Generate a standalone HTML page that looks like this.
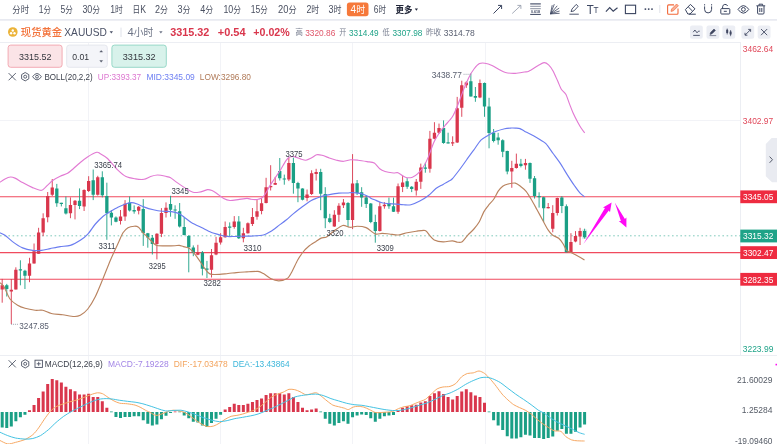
<!DOCTYPE html><html><head><meta charset="utf-8"><title>XAUUSD</title><style>html,body{margin:0;padding:0;background:#fff}svg{display:block}</style></head><body>
<svg width="777" height="444" viewBox="0 0 777 444" font-family='"Liberation Sans","Noto Sans CJK SC",sans-serif'>
<rect width="777" height="444" fill="#fff"/>
<g stroke="#f2f3f7" stroke-width="1" shape-rendering="crispEdges">
<line x1="88.3" y1="43" x2="88.3" y2="444"/>
<line x1="220.4" y1="43" x2="220.4" y2="444"/>
<line x1="352.7" y1="43" x2="352.7" y2="444"/>
<line x1="485" y1="43" x2="485" y2="444"/>
<line x1="0" y1="120.5" x2="740" y2="120.5"/>
</g>
<line x1="0" y1="19.9" x2="777" y2="19.9" stroke="#e8eaf1" stroke-width="1.6"/>
<g stroke="#eceef3" stroke-width="1" shape-rendering="crispEdges">
<line x1="0" y1="42.5" x2="740" y2="42.5"/>
<line x1="0" y1="355.5" x2="777" y2="355.5"/>
<line x1="740.5" y1="42" x2="740.5" y2="355"/>
</g>
<g stroke="#f04a5e" stroke-width="1.05">
<line x1="0" y1="196.8" x2="741" y2="196.8"/>
<line x1="0" y1="252.6" x2="741" y2="252.6"/>
<line x1="0" y1="279.2" x2="741" y2="279.2"/>
</g>
<line x1="0" y1="235.8" x2="741" y2="235.8" stroke="#1a9f85" stroke-opacity="0.55" stroke-width="1" stroke-dasharray="1.6,2.6"/>
<path d="M2.20,278.9V302.7M11.30,279.0V324.0M15.85,267.3V289.5M29.50,257.8V282.2M34.05,243.5V263.6M38.60,227.8V253.8M43.15,213.3V236.2M47.70,192.0V222.3M52.25,179.0V196.0M70.45,197.4V218.2M75.00,200.0V219.4M84.10,189.3V211.0M88.65,176.2V192.0M97.75,175.8V195.6M120.50,210.0V224.5M125.05,200.1V220.9M138.70,206.0V214.4M156.90,233.2V259.4M161.45,208.1V237.1M166.00,202.4V217.5M197.85,244.8V255.2M211.50,249.0V277.5M216.05,236.8V255.2M220.60,233.2V244.6M225.15,221.5V237.7M234.25,216.1V228.7M243.35,227.8V242.3M247.90,222.4V233.6M252.45,208.0V226.0M257.00,199.9V219.7M261.55,198.1V214.3M266.10,177.8V203.4M270.65,165.2V190.5M275.20,176.9V185.0M288.85,158.0V181.1M307.05,189.5V201.3M311.60,170.3V195.0M316.15,168.8V180.5M334.35,210.2V226.8M338.90,203.2V221.9M343.45,199.0V208.0M352.55,154.1V229.1M379.85,202.1V231.5M384.40,202.1V208.7M398.05,183.5V213.8M402.60,175.4V192.1M416.25,179.0V195.6M420.80,163.6V188.9M429.90,130.9V172.7M434.45,122.2V139.3M439.00,123.6V133.9M452.65,136.3V146.0M457.20,96.9V143.0M461.75,80.7V116.8M466.30,81.3V87.9M479.95,79.5V98.2M511.80,160.8V187.8M516.35,153.6V168.6M525.45,158.9V169.7M548.20,203.0V208.5M552.75,205.2V232.3M557.30,197.6V215.5M570.95,233.2V252.2M575.50,231.1V242.3M580.05,227.8V245.0" stroke="#d9364c" stroke-width="0.9" fill="none"/>
<path d="M6.75,283.9V296.5M20.40,260.3V285.3M24.95,269.8V289.0M56.80,183.9V206.8M61.35,202.8V206.4M65.90,196.5V214.5M79.55,188.4V209.1M93.20,169.5V200.1M102.30,171.3V197.4M106.85,182.7V239.8M111.40,210.0V225.4M115.95,216.4V222.3M129.60,196.5V211.5M134.15,205.4V213.7M143.25,199.1V245.9M147.80,232.9V247.7M152.35,235.0V254.5M170.55,195.8V216.7M175.10,205.3V218.8M179.65,203.0V227.5M184.20,217.0V235.4M188.75,235.0V272.3M193.30,245.4V256.2M202.40,251.0V275.4M206.95,260.9V278.0M229.70,222.4V236.5M238.80,216.1V239.0M279.75,158.0V180.5M284.30,174.6V184.7M293.40,157.7V193.7M297.95,181.8V202.2M302.50,188.3V200.4M320.70,168.8V210.2M325.25,187.2V228.2M329.80,213.8V223.2M348.00,202.1V226.8M357.10,180.0V195.0M361.65,187.2V206.8M366.20,195.3V208.0M370.75,203.0V223.2M375.30,214.7V242.7M388.95,197.6V208.8M393.50,197.6V212.0M407.15,178.1V188.9M411.70,186.1V192.1M425.35,162.7V172.7M443.55,120.4V143.8M448.10,132.7V143.5M470.85,73.5V96.6M475.40,87.0V101.8M484.50,82.5V116.8M489.05,97.8V148.3M493.60,129.0V142.4M498.15,132.8V144.7M502.70,139.3V157.2M507.25,150.7V174.3M520.90,158.9V167.4M530.00,162.5V182.9M534.55,176.0V198.6M539.10,192.3V207.6M543.65,196.8V222.1M561.85,196.2V213.1M566.40,204.4V252.2M584.60,228.7V238.6" stroke="#1a9f85" stroke-width="0.9" fill="none"/>
<path d="M0.55,285.2h3.3V289.4h-3.3zM9.65,289.8h3.3V291.5h-3.3zM14.20,269.8h3.3V289.5h-3.3zM27.85,263.6h3.3V275.8h-3.3zM32.40,251.2h3.3V263.6h-3.3zM36.95,232.6h3.3V253.8h-3.3zM41.50,218.2h3.3V232.6h-3.3zM46.05,196.0h3.3V217.3h-3.3zM50.60,187.5h3.3V194.7h-3.3zM68.80,205.0h3.3V213.3h-3.3zM73.35,200.7h3.3V205.0h-3.3zM82.45,189.9h3.3V206.4h-3.3zM87.00,180.9h3.3V191.1h-3.3zM96.10,177.3h3.3V194.7h-3.3zM118.85,216.4h3.3V220.9h-3.3zM123.40,203.7h3.3V216.4h-3.3zM137.05,206.7h3.3V210.8h-3.3zM155.25,233.8h3.3V244.0h-3.3zM159.80,213.1h3.3V233.7h-3.3zM164.35,207.8h3.3V212.9h-3.3zM196.20,252.6h3.3V254.7h-3.3zM209.85,255.2h3.3V269.7h-3.3zM214.40,242.8h3.3V254.6h-3.3zM218.95,237.2h3.3V242.5h-3.3zM223.50,226.9h3.3V237.2h-3.3zM232.60,221.5h3.3V226.9h-3.3zM241.70,233.2h3.3V238.3h-3.3zM246.25,223.3h3.3V233.2h-3.3zM250.80,217.0h3.3V223.9h-3.3zM255.35,211.3h3.3V216.7h-3.3zM259.90,203.3h3.3V210.9h-3.3zM264.45,187.2h3.3V203.1h-3.3zM269.00,185.9h3.3V187.2h-3.3zM273.55,182.9h3.3V184.7h-3.3zM287.20,163.1h3.3V179.6h-3.3zM305.40,194.4h3.3V198.0h-3.3zM309.95,173.3h3.3V194.0h-3.3zM314.50,172.1h3.3V173.9h-3.3zM332.70,214.7h3.3V226.4h-3.3zM337.25,205.7h3.3V214.7h-3.3zM341.80,202.5h3.3V205.2h-3.3zM350.90,183.6h3.3V220.1h-3.3zM378.20,206.3h3.3V231.0h-3.3zM382.75,204.8h3.3V206.3h-3.3zM396.40,186.3h3.3V211.7h-3.3zM400.95,182.6h3.3V187.1h-3.3zM414.60,181.7h3.3V190.5h-3.3zM419.15,167.6h3.3V181.7h-3.3zM428.25,138.8h3.3V168.7h-3.3zM432.80,132.7h3.3V138.8h-3.3zM437.35,128.0h3.3V132.7h-3.3zM451.00,142.3h3.3V143.5h-3.3zM455.55,108.3h3.3V142.4h-3.3zM460.10,85.2h3.3V107.7h-3.3zM464.65,82.5h3.3V85.2h-3.3zM478.30,83.1h3.3V97.5h-3.3zM510.15,168.0h3.3V171.6h-3.3zM514.70,163.7h3.3V168.0h-3.3zM523.80,163.1h3.3V165.2h-3.3zM546.55,207.0h3.3V208.2h-3.3zM551.10,213.1h3.3V228.7h-3.3zM555.65,198.0h3.3V213.1h-3.3zM569.30,241.9h3.3V252.2h-3.3zM573.85,235.9h3.3V241.4h-3.3zM578.40,231.1h3.3V236.5h-3.3z" fill="#d9364c"/>
<path d="M5.10,285.2h3.3V288.9h-3.3zM18.75,269.3h3.3V270.6h-3.3zM23.30,270.8h3.3V275.8h-3.3zM55.15,188.4h3.3V203.2h-3.3zM59.70,202.8h3.3V204.0h-3.3zM64.25,208.2h3.3V213.6h-3.3zM77.90,200.7h3.3V206.0h-3.3zM91.55,180.3h3.3V194.7h-3.3zM100.65,177.3h3.3V195.3h-3.3zM105.20,196.0h3.3V213.3h-3.3zM109.75,212.7h3.3V217.6h-3.3zM114.30,217.6h3.3V221.8h-3.3zM127.95,202.8h3.3V210.4h-3.3zM132.50,209.9h3.3V211.4h-3.3zM141.60,209.0h3.3V232.9h-3.3zM146.15,233.2h3.3V237.4h-3.3zM150.70,237.8h3.3V244.0h-3.3zM168.90,204.0h3.3V209.8h-3.3zM173.45,209.4h3.3V210.6h-3.3zM178.00,211.3h3.3V226.4h-3.3zM182.55,226.9h3.3V235.0h-3.3zM187.10,236.0h3.3V247.2h-3.3zM191.65,247.4h3.3V253.1h-3.3zM200.75,252.6h3.3V268.7h-3.3zM205.30,268.5h3.3V269.8h-3.3zM228.05,226.6h3.3V227.8h-3.3zM237.15,221.5h3.3V238.3h-3.3zM278.10,171.0h3.3V178.2h-3.3zM282.65,178.4h3.3V179.6h-3.3zM291.75,163.1h3.3V182.9h-3.3zM296.30,182.9h3.3V188.6h-3.3zM300.85,188.6h3.3V199.8h-3.3zM319.05,172.1h3.3V193.8h-3.3zM323.60,194.0h3.3V218.3h-3.3zM328.15,218.3h3.3V221.9h-3.3zM346.35,203.0h3.3V220.1h-3.3zM355.45,183.2h3.3V193.1h-3.3zM360.00,192.2h3.3V197.5h-3.3zM364.55,197.5h3.3V203.9h-3.3zM369.10,203.4h3.3V221.9h-3.3zM373.65,221.9h3.3V231.0h-3.3zM387.30,203.9h3.3V206.3h-3.3zM391.85,206.3h3.3V211.7h-3.3zM405.50,181.3h3.3V186.7h-3.3zM410.05,186.7h3.3V189.1h-3.3zM423.70,167.5h3.3V168.7h-3.3zM441.90,128.0h3.3V142.9h-3.3zM446.45,142.3h3.3V143.5h-3.3zM469.20,81.3h3.3V96.6h-3.3zM473.75,96.0h3.3V97.8h-3.3zM482.85,83.1h3.3V106.5h-3.3zM487.40,106.5h3.3V133.0h-3.3zM491.95,132.8h3.3V141.1h-3.3zM496.50,137.5h3.3V140.2h-3.3zM501.05,140.2h3.3V151.8h-3.3zM505.60,151.1h3.3V171.6h-3.3zM519.25,163.8h3.3V166.1h-3.3zM528.35,163.1h3.3V178.7h-3.3zM532.90,178.2h3.3V195.9h-3.3zM537.45,195.9h3.3V197.3h-3.3zM542.00,197.3h3.3V208.2h-3.3zM560.20,197.6h3.3V205.9h-3.3zM564.75,206.2h3.3V252.2h-3.3zM582.95,231.1h3.3V237.2h-3.3z" fill="#1a9f85"/>
<rect x="582.3" y="229.5" width="4.8" height="9.5" fill="#1a9f85" fill-opacity="0.18"/>
<path d="M0.0,182.3C0.7,181.8 3.6,179.6 5.0,178.9C6.4,178.2 9.2,177.1 10.5,177.0C11.8,176.9 13.4,177.4 15.0,178.1C16.6,178.8 20.3,181.3 22.6,182.6C24.9,183.9 30.1,186.6 32.6,187.6C35.1,188.6 39.6,190.6 41.6,190.3C43.6,190.0 46.2,186.4 47.7,185.1C49.2,183.8 51.0,181.7 52.7,180.5C54.4,179.3 58.3,177.2 60.2,176.3C62.1,175.4 65.7,174.2 67.0,173.5C68.3,172.8 68.5,172.8 70.3,171.3C72.1,169.8 78.0,164.4 80.3,162.5C82.6,160.6 85.3,158.4 87.5,157.0C89.7,155.6 95.1,152.7 96.8,152.3C98.5,151.9 99.0,153.0 100.4,153.8C101.8,154.6 105.2,156.3 107.5,158.5C109.8,160.7 115.4,167.7 117.9,170.1C120.4,172.5 123.7,175.4 126.0,176.6C128.3,177.8 133.1,178.5 135.5,178.9C137.9,179.3 142.0,179.6 144.0,179.3C146.0,179.0 148.8,177.1 150.6,176.5C152.4,175.9 155.5,175.0 157.5,175.0C159.5,175.0 163.9,175.9 165.6,176.3C167.3,176.7 169.3,177.0 170.6,177.7C171.9,178.4 173.4,180.0 175.7,181.6C178.0,183.2 185.2,188.1 187.5,189.5C189.8,190.9 191.5,191.8 193.0,192.2C194.5,192.6 197.0,192.5 198.5,192.3C200.0,192.1 202.7,191.3 203.9,190.9C205.1,190.5 206.4,189.7 207.5,189.6C208.6,189.5 210.8,190.0 212.0,190.5C213.2,191.0 214.9,192.1 216.5,193.2C218.1,194.3 221.9,197.5 223.7,198.5C225.5,199.5 228.1,200.4 230.0,200.5C231.9,200.6 235.8,199.9 238.1,199.6C240.4,199.3 245.4,198.3 247.1,198.3C248.8,198.3 249.7,199.1 251.0,199.3C252.3,199.5 255.8,199.7 257.2,199.5C258.6,199.3 260.6,198.7 261.7,198.0C262.8,197.3 264.2,195.6 265.3,194.0C266.4,192.4 268.5,188.1 269.8,185.9C271.1,183.7 273.8,180.0 275.2,177.8C276.6,175.6 279.2,172.0 280.6,169.7C282.0,167.4 284.8,162.4 286.0,160.7C287.2,159.0 288.5,157.6 289.6,157.1C290.7,156.6 292.6,156.4 294.1,156.6C295.6,156.8 298.9,158.4 300.5,158.9C302.1,159.4 304.5,160.3 305.9,160.2C307.3,160.1 309.9,158.7 311.3,158.0C312.7,157.3 315.3,155.2 316.7,154.8C318.1,154.4 320.3,154.9 322.0,155.3C323.7,155.7 327.4,157.3 329.3,158.0C331.2,158.7 334.6,159.8 336.5,160.2C338.4,160.6 341.8,161.4 343.7,161.3C345.6,161.2 349.0,159.9 350.9,159.8C352.8,159.7 355.9,160.0 358.1,160.2C360.3,160.4 364.9,161.2 367.1,161.6C369.3,162.0 372.6,162.1 374.3,163.1C376.0,164.1 378.3,167.7 379.7,168.8C381.1,169.9 383.3,170.9 385.1,171.5C386.9,172.1 391.8,172.8 393.5,173.0C395.2,173.2 396.7,172.3 398.0,172.7C399.3,173.1 402.2,175.6 403.4,176.3C404.6,177.0 405.8,177.6 407.0,177.7C408.2,177.8 411.0,177.7 412.4,177.2C413.8,176.7 416.4,174.9 417.8,173.6C419.2,172.3 421.8,169.6 423.2,167.3C424.6,165.0 427.2,159.8 428.6,156.4C430.0,153.0 432.5,145.2 434.0,142.0C435.5,138.8 438.1,134.7 439.6,132.5C441.1,130.3 443.3,127.6 445.0,125.5C446.7,123.4 450.7,119.5 452.4,116.8C454.1,114.1 456.4,108.5 457.8,105.0C459.2,101.5 461.8,94.2 463.2,90.6C464.6,87.0 467.2,80.9 468.6,78.0C470.0,75.1 472.5,70.9 474.0,69.0C475.5,67.1 478.0,64.4 479.5,63.6C481.0,62.8 483.2,63.0 484.9,63.2C486.6,63.4 490.1,64.5 492.0,65.4C493.9,66.3 497.7,68.9 499.5,69.8C501.3,70.7 503.3,72.0 505.4,72.5C507.5,73.0 512.8,73.5 515.3,73.4C517.8,73.3 522.7,72.3 524.5,72.0C526.3,71.7 527.0,72.0 528.8,71.2C530.6,70.4 535.8,66.9 537.8,65.8C539.8,64.7 542.7,62.7 544.1,62.6C545.5,62.5 547.4,63.8 548.6,64.9C549.8,66.0 552.0,69.0 553.2,71.2C554.4,73.4 556.6,78.7 557.7,81.1C558.8,83.5 560.2,87.4 561.3,89.2C562.4,91.0 564.7,92.4 565.8,94.3C566.9,96.2 568.4,101.1 569.4,103.6C570.4,106.1 571.9,110.3 573.0,112.7C574.1,115.1 576.4,119.7 577.5,121.7C578.6,123.7 580.1,126.5 581.1,128.0C582.1,129.5 584.2,132.2 584.7,132.8" fill="none" stroke="#e27ad3" stroke-width="1.15" stroke-linejoin="round"/>
<path d="M0.0,232.8C0.7,233.1 3.3,234.1 5.0,235.3C6.7,236.5 10.2,239.9 12.5,241.6C14.8,243.3 19.9,246.7 22.6,247.9C25.3,249.1 30.1,250.1 32.6,250.4C35.1,250.7 39.1,250.6 41.4,250.4C43.7,250.2 47.7,249.1 50.2,248.6C52.7,248.1 57.5,247.0 60.2,246.6C62.9,246.2 67.6,246.2 70.3,245.4C73.0,244.6 78.0,241.8 80.3,240.3C82.6,238.8 85.8,236.3 87.8,234.1C89.8,231.9 93.4,226.3 95.4,224.0C97.4,221.7 100.9,218.2 102.9,216.5C104.9,214.8 108.4,212.7 110.4,211.5C112.4,210.3 115.9,208.2 117.9,207.2C119.9,206.2 123.7,204.6 125.5,204.0C127.3,203.4 129.9,202.6 131.5,202.6C133.1,202.6 135.5,203.4 137.2,204.0C138.9,204.6 142.2,206.3 144.4,207.1C146.6,207.9 151.0,209.2 153.4,209.8C155.8,210.4 160.0,211.1 162.4,211.3C164.8,211.5 169.2,211.3 171.4,211.6C173.6,211.9 176.9,212.7 178.6,213.4C180.3,214.1 182.3,215.8 184.0,217.0C185.7,218.2 188.9,221.0 191.3,222.4C193.7,223.8 199.4,226.5 202.0,227.8C204.6,229.1 208.6,231.3 211.0,232.3C213.4,233.3 217.8,234.4 220.0,235.0C222.2,235.6 225.4,236.3 227.3,236.5C229.2,236.7 232.6,236.5 234.5,236.5C236.4,236.5 239.5,236.3 241.7,236.2C243.9,236.1 247.9,236.3 250.8,236.1C253.7,235.9 260.8,235.6 263.4,235.0C266.0,234.4 268.4,232.8 270.6,231.5C272.8,230.2 277.4,226.5 279.6,224.9C281.8,223.3 285.0,221.0 286.8,219.5C288.6,218.0 291.1,215.6 293.2,213.9C295.3,212.2 299.9,208.5 302.3,206.7C304.7,204.9 309.3,201.6 311.3,200.4C313.3,199.2 315.8,198.6 317.2,198.0C318.6,197.4 320.6,196.6 322.0,196.2C323.4,195.8 325.8,195.3 328.0,194.9C330.2,194.5 336.2,193.4 338.8,193.1C341.4,192.8 345.6,193.1 347.3,193.0C349.0,192.9 350.4,192.6 351.4,192.6C352.4,192.6 353.0,192.6 354.5,192.8C356.0,193.0 360.4,193.5 362.3,194.0C364.2,194.5 367.7,196.2 368.9,196.8C370.1,197.4 370.3,198.0 371.3,198.5C372.3,199.0 374.7,199.8 376.1,200.4C377.5,201.0 379.8,202.2 382.0,202.7C384.2,203.2 390.0,203.6 392.9,203.9C395.8,204.2 401.3,204.7 403.7,204.8C406.1,204.9 408.8,205.2 410.9,204.7C413.0,204.2 417.4,202.4 419.8,201.1C422.2,199.8 426.7,197.0 428.8,195.3C430.9,193.6 434.0,190.0 435.9,188.5C437.8,187.0 441.4,185.4 443.1,184.4C444.8,183.4 447.4,182.0 448.6,181.3C449.8,180.6 450.7,180.5 452.1,179.0C453.5,177.5 457.4,172.5 459.3,170.0C461.2,167.5 464.6,162.7 466.5,160.0C468.4,157.3 471.8,152.7 473.7,150.1C475.6,147.5 479.0,142.2 480.9,140.2C482.8,138.2 486.4,136.4 488.3,135.2C490.2,134.0 493.3,132.4 495.5,131.5C497.7,130.6 502.6,129.2 504.7,128.7C506.8,128.2 510.1,128.1 511.5,128.0C512.9,127.9 514.4,128.0 515.5,128.1C516.6,128.2 518.8,128.2 520.0,128.6C521.2,129.0 522.7,130.3 524.5,131.2C526.3,132.1 531.4,134.5 533.5,135.7C535.6,136.9 538.9,138.9 540.6,140.0C542.3,141.1 544.2,141.8 545.9,143.6C547.6,145.4 551.2,150.9 553.1,153.5C555.0,156.1 558.4,160.5 560.3,163.4C562.2,166.3 565.6,172.1 567.5,175.1C569.4,178.1 573.0,183.6 574.7,186.0C576.4,188.4 578.8,191.8 580.1,193.2C581.4,194.6 584.0,196.3 584.6,196.8" fill="none" stroke="#6b7df0" stroke-width="1.15" stroke-linejoin="round"/>
<path d="M0.0,282.7C0.5,283.2 2.5,284.2 3.8,286.4C5.1,288.6 8.2,296.5 10.0,299.0C11.8,301.5 15.6,304.0 17.6,305.2C19.6,306.4 22.8,307.6 25.1,308.3C27.4,309.0 32.8,310.0 35.1,310.3C37.4,310.6 40.5,309.9 42.7,310.3C44.9,310.7 48.7,312.9 51.4,313.5C54.1,314.1 59.7,314.4 62.7,314.8C65.7,315.2 71.7,316.4 74.0,316.5C76.3,316.6 78.5,316.3 80.3,315.3C82.1,314.3 85.8,311.5 87.8,309.0C89.8,306.5 93.4,300.5 95.4,296.5C97.4,292.5 100.9,283.7 102.9,278.9C104.9,274.1 108.4,264.9 110.4,260.2C112.4,255.5 116.2,247.5 117.9,243.8C119.6,240.1 121.7,234.9 123.0,232.8C124.3,230.7 126.5,228.7 128.0,227.8C129.5,226.9 132.9,226.3 134.3,226.2C135.7,226.1 137.4,226.4 138.5,227.2C139.6,228.0 141.3,230.9 142.6,232.3C143.9,233.7 146.6,236.2 148.0,237.7C149.4,239.2 152.2,242.2 153.4,243.2C154.6,244.2 155.3,245.1 157.0,245.5C158.7,245.9 163.6,245.9 166.0,245.9C168.4,245.9 173.2,245.8 175.0,245.7C176.8,245.6 178.2,245.3 179.3,245.4C180.4,245.5 182.2,246.3 183.5,246.6C184.8,246.9 187.5,247.3 188.7,248.0C189.9,248.7 191.7,250.4 192.8,251.6C193.9,252.8 195.8,255.3 196.9,256.8C198.0,258.3 200.0,261.3 201.1,263.0C202.2,264.7 204.2,267.9 205.2,269.2C206.2,270.5 207.5,272.1 208.3,272.8C209.1,273.5 210.0,274.2 211.5,274.4C213.0,274.6 217.5,274.5 219.7,274.4C221.9,274.3 225.8,273.7 228.0,273.5C230.2,273.3 234.1,272.8 236.3,272.6C238.5,272.4 242.9,272.1 244.6,272.0C246.3,271.9 247.2,271.9 249.0,271.8C250.8,271.7 256.1,271.2 258.0,271.4C259.9,271.6 261.7,272.7 263.4,273.6C265.1,274.5 268.6,277.4 270.6,278.4C272.6,279.4 276.4,280.8 278.7,280.8C281.0,280.8 285.9,279.4 287.7,278.1C289.5,276.8 291.0,273.3 292.3,270.9C293.6,268.5 296.3,262.5 297.7,260.0C299.1,257.5 301.7,253.8 303.1,252.0C304.5,250.2 306.8,247.9 308.5,246.5C310.2,245.1 314.0,242.8 315.7,241.7C317.4,240.6 319.7,238.7 321.1,238.1C322.5,237.5 324.8,237.9 326.5,237.0C328.2,236.1 331.5,232.7 333.7,231.2C335.9,229.7 340.5,226.0 342.7,225.5C344.9,225.0 348.1,227.2 350.0,227.3C351.9,227.4 355.0,226.2 357.1,226.2C359.2,226.2 363.7,226.6 366.1,227.6C368.5,228.6 373.0,233.1 375.1,233.9C377.2,234.7 380.2,233.4 382.1,233.4C384.0,233.4 387.1,233.8 389.3,234.0C391.5,234.2 395.9,235.2 398.3,235.0C400.7,234.8 404.8,233.2 407.2,232.7C409.6,232.2 413.8,231.5 416.2,231.2C418.6,230.9 423.4,229.9 425.2,230.5C427.0,231.1 428.5,234.1 429.7,235.4C430.9,236.7 432.4,239.0 434.2,239.9C436.0,240.8 440.8,241.8 443.2,241.9C445.6,242.0 450.4,240.8 452.3,240.8C454.2,240.8 456.4,242.1 457.7,242.2C459.0,242.3 460.9,242.6 462.2,241.7C463.5,240.8 466.0,237.1 467.6,235.4C469.2,233.7 472.3,230.8 473.9,229.0C475.5,227.2 478.0,224.1 479.3,221.8C480.6,219.5 482.6,214.1 483.8,211.9C485.0,209.7 487.0,207.3 488.3,205.6C489.6,203.9 492.4,201.2 493.7,199.3C495.0,197.4 497.0,192.9 498.2,191.2C499.4,189.5 501.4,187.2 502.7,186.2C504.0,185.2 506.4,184.4 508.1,184.0C509.8,183.6 513.6,182.8 515.3,183.1C517.0,183.4 519.3,185.4 520.7,186.5C522.1,187.6 524.7,189.5 526.1,191.3C527.5,193.1 530.1,197.4 531.5,199.8C532.9,202.2 535.3,206.6 536.9,209.5C538.5,212.4 541.9,218.8 543.4,221.5C544.9,224.2 546.7,227.8 547.9,229.6C549.1,231.4 551.0,233.8 552.4,235.0C553.8,236.2 557.3,237.1 558.7,238.3C560.1,239.5 562.2,242.4 563.2,244.0C564.2,245.6 565.5,249.3 566.5,250.4C567.5,251.5 569.2,251.6 570.5,252.2C571.8,252.8 574.0,253.9 575.9,254.9C577.8,255.9 583.4,259.2 584.5,259.9" fill="none" stroke="#b9835f" stroke-width="1.15" stroke-linejoin="round"/>
<text x="94.2" y="167.9" font-size="8.4" fill="#3a3f4a" textLength="28.0" lengthAdjust="spacingAndGlyphs">3365.74</text>
<text x="171.4" y="194.3" font-size="8.4" fill="#3a3f4a" textLength="17.4" lengthAdjust="spacingAndGlyphs">3345</text>
<text x="98.6" y="249.2" font-size="8.4" fill="#3a3f4a" textLength="16.8" lengthAdjust="spacingAndGlyphs">3311</text>
<text x="148.8" y="269.3" font-size="8.4" fill="#3a3f4a" textLength="16.8" lengthAdjust="spacingAndGlyphs">3295</text>
<text x="203.5" y="285.6" font-size="8.4" fill="#3a3f4a" textLength="17.5" lengthAdjust="spacingAndGlyphs">3282</text>
<text x="243.6" y="250.6" font-size="8.4" fill="#3a3f4a" textLength="18.0" lengthAdjust="spacingAndGlyphs">3310</text>
<text x="285.5" y="156.9" font-size="8.4" fill="#3a3f4a" textLength="17.1" lengthAdjust="spacingAndGlyphs">3375</text>
<text x="326.5" y="236.0" font-size="8.4" fill="#3a3f4a" textLength="17.1" lengthAdjust="spacingAndGlyphs">3320</text>
<text x="376.7" y="250.7" font-size="8.4" fill="#3a3f4a" textLength="17.1" lengthAdjust="spacingAndGlyphs">3309</text>
<text x="431.7" y="78.3" font-size="8.4" fill="#5a6070" textLength="30.1" lengthAdjust="spacingAndGlyphs">3438.77</text>
<text x="19.3" y="329.3" font-size="8.4" fill="#5a6070" textLength="29.6" lengthAdjust="spacingAndGlyphs">3247.85</text>
<path d="M463.6,74.3H471.6 M11.2,324.3H18" stroke="#7a8090" stroke-width="0.8" stroke-dasharray="0.9,1.1" fill="none"/>
<polygon points="583.4,243.9 608.8,210.6 610.0,212.3 611.6,202.4 603.0,207.6 605.0,208.0" fill="#ff0af5"/>
<polygon points="614.9,202.7 620.9,220.9 618.8,221.0 626.4,227.5 626.4,217.5 624.9,219.0" fill="#ff0af5"/>
<rect x="775.5" y="363.8" width="1.5" height="1.6" fill="#ff0af5"/>
<rect x="740.3" y="190.4" width="36.7" height="12.8" fill="#ee2b40"/>
<text x="743.0" y="200.0" font-size="9" fill="#fff" textLength="30.3" lengthAdjust="spacingAndGlyphs">3345.05</text>
<rect x="740.3" y="229.6" width="36.7" height="12.8" fill="#1fa388"/>
<text x="743.0" y="239.2" font-size="9" fill="#fff" textLength="30.3" lengthAdjust="spacingAndGlyphs">3315.32</text>
<rect x="740.3" y="246.2" width="36.7" height="12.8" fill="#ee2b40"/>
<text x="743.0" y="255.8" font-size="9" fill="#fff" textLength="30.3" lengthAdjust="spacingAndGlyphs">3302.47</text>
<rect x="740.3" y="272.9" width="36.7" height="12.8" fill="#ee2b40"/>
<text x="743.0" y="282.5" font-size="9" fill="#fff" textLength="30.3" lengthAdjust="spacingAndGlyphs">3282.35</text>
<text x="742.8" y="51.7" font-size="9" fill="#e0485a" textLength="30.4" lengthAdjust="spacingAndGlyphs">3462.64</text>
<text x="742.8" y="124.4" font-size="9" fill="#e0485a" textLength="30.4" lengthAdjust="spacingAndGlyphs">3402.97</text>
<text x="742.7" y="351.9" font-size="9" fill="#1fa388" textLength="30.7" lengthAdjust="spacingAndGlyphs">3223.99</text>
<text x="737.1" y="382.6" font-size="9" fill="#555b66" textLength="35.4" lengthAdjust="spacingAndGlyphs">21.60029</text>
<text x="741.8" y="413.0" font-size="9" fill="#555b66" textLength="30.7" lengthAdjust="spacingAndGlyphs">1.25284</text>
<text x="734.9" y="443.7" font-size="9" fill="#555b66" textLength="37.6" lengthAdjust="spacingAndGlyphs">-19.09460</text>
<path d="M777,137.9H771.6L765.8,144V176.2L772,182.3H777z" fill="#e9ebf1"/>
<path d="M769.6,156.6l2.9,3.1l-2.9,3.1" fill="none" stroke="#555b6b" stroke-width="1"/>
<path d="M28.00,410.2h3V411.9h-3zM32.55,405.1h3V411.9h-3zM37.10,398.0h3V411.9h-3zM41.65,391.6h3V411.9h-3zM46.20,383.9h3V411.9h-3zM50.75,379.1h3V411.9h-3zM55.30,380.2h3V411.9h-3zM59.85,382.6h3V411.9h-3zM64.40,386.8h3V411.9h-3zM68.95,389.3h3V411.9h-3zM73.50,391.2h3V411.9h-3zM78.05,394.5h3V411.9h-3zM82.60,394.5h3V411.9h-3zM87.15,393.8h3V411.9h-3zM91.70,397.0h3V411.9h-3zM96.25,397.0h3V411.9h-3zM100.80,401.3h3V411.9h-3zM105.35,407.7h3V411.9h-3zM173.70,411.5h2.8v0.8h-2.8zM223.65,409.6h3V411.9h-3zM228.20,407.1h3V411.9h-3zM232.75,403.8h3V411.9h-3zM237.30,405.1h3V411.9h-3zM241.85,405.1h3V411.9h-3zM246.40,403.8h3V411.9h-3zM250.95,401.9h3V411.9h-3zM255.50,399.9h3V411.9h-3zM260.05,398.4h3V411.9h-3zM264.60,395.1h3V411.9h-3zM269.15,393.2h3V411.9h-3zM273.70,393.2h3V411.9h-3zM278.25,393.2h3V411.9h-3zM282.80,394.5h3V411.9h-3zM287.35,393.2h3V411.9h-3zM291.90,397.0h3V411.9h-3zM296.45,401.9h3V411.9h-3zM301.00,407.7h3V411.9h-3zM305.55,410.2h3V411.9h-3zM310.10,409.6h3V411.9h-3zM314.65,408.6h3V411.9h-3zM396.55,410.5h3V411.9h-3zM401.10,407.7h3V411.9h-3zM405.65,406.3h3V411.9h-3zM410.20,405.3h3V411.9h-3zM414.75,404.8h3V411.9h-3zM419.30,402.4h3V411.9h-3zM423.85,401.3h3V411.9h-3zM428.40,396.1h3V411.9h-3zM432.95,393.2h3V411.9h-3zM437.50,391.2h3V411.9h-3zM442.05,394.1h3V411.9h-3zM446.60,397.0h3V411.9h-3zM451.15,399.4h3V411.9h-3zM455.70,396.1h3V411.9h-3zM460.25,391.6h3V411.9h-3zM464.80,389.3h3V411.9h-3zM469.35,392.2h3V411.9h-3zM473.90,395.5h3V411.9h-3zM478.45,397.0h3V411.9h-3zM483.00,402.8h3V411.9h-3z" fill="#d9364c"/>
<path d="M0.70,411.9h3V427.5h-3zM5.25,411.9h3V427.9h-3zM9.80,411.9h3V426.6h-3zM14.35,411.9h3V421.2h-3zM18.90,411.9h3V417.3h-3zM23.45,411.9h3V414.8h-3zM110.00,411.5h2.8v0.8h-2.8zM114.45,411.9h3V416.9h-3zM119.00,411.9h3V417.9h-3zM123.55,411.9h3V416.9h-3zM128.10,411.9h3V416.9h-3zM132.65,411.9h3V416.3h-3zM137.20,411.9h3V416.3h-3zM141.75,411.9h3V420.2h-3zM146.30,411.9h3V423.7h-3zM150.85,411.9h3V425.6h-3zM155.40,411.9h3V424.6h-3zM159.95,411.9h3V419.2h-3zM164.50,411.9h3V415.8h-3zM169.05,411.9h3V412.9h-3zM178.25,411.5h2.8v0.8h-2.8zM182.70,411.9h3V415.4h-3zM187.25,411.9h3V418.3h-3zM191.80,411.9h3V421.7h-3zM196.35,411.9h3V422.5h-3zM200.90,411.9h3V425.6h-3zM205.45,411.9h3V427.0h-3zM210.00,411.9h3V423.1h-3zM214.55,411.9h3V418.7h-3zM219.10,411.9h3V414.8h-3zM319.30,411.5h2.8v0.8h-2.8zM323.75,411.9h3V418.7h-3zM328.30,411.9h3V423.7h-3zM332.85,411.9h3V425.4h-3zM337.40,411.9h3V423.1h-3zM341.95,411.9h3V421.2h-3zM346.50,411.9h3V423.7h-3zM351.05,411.9h3V417.3h-3zM355.60,411.9h3V415.4h-3zM360.15,411.9h3V414.4h-3zM364.70,411.9h3V415.0h-3zM369.25,411.9h3V418.3h-3zM373.80,411.9h3V421.7h-3zM378.35,411.9h3V418.7h-3zM382.90,411.9h3V416.3h-3zM387.45,411.9h3V415.4h-3zM392.00,411.9h3V415.0h-3zM487.65,411.5h2.8v0.8h-2.8zM492.10,411.9h3V420.2h-3zM496.65,411.9h3V425.4h-3zM501.20,411.9h3V429.9h-3zM505.75,411.9h3V436.2h-3zM510.30,411.9h3V438.5h-3zM514.85,411.9h3V438.5h-3zM519.40,411.9h3V437.2h-3zM523.95,411.9h3V434.7h-3zM528.50,411.9h3V435.6h-3zM533.05,411.9h3V438.0h-3zM537.60,411.9h3V438.0h-3zM542.15,411.9h3V439.1h-3zM546.70,411.9h3V438.0h-3zM551.25,411.9h3V436.6h-3zM555.80,411.9h3V430.8h-3zM560.35,411.9h3V428.9h-3zM564.90,411.9h3V433.7h-3zM569.45,411.9h3V433.7h-3zM574.00,411.9h3V431.8h-3zM578.55,411.9h3V427.5h-3zM583.10,411.9h3V424.6h-3z" fill="#1a9f85"/>
<path d="M0.0,440.5C1.0,441.0 5.6,443.6 7.7,443.9C9.8,444.2 13.1,443.0 15.4,442.4C17.7,441.8 22.8,440.5 25.1,439.5C27.4,438.5 31.0,436.2 32.8,434.7C34.6,433.2 37.1,430.0 38.6,427.9C40.1,425.8 42.9,421.4 44.4,419.2C45.9,417.0 48.7,413.2 50.2,411.5C51.7,409.8 54.5,407.6 56.0,406.7C57.5,405.8 60.0,405.0 61.8,404.4C63.6,403.8 67.4,402.5 69.5,401.9C71.6,401.3 75.1,400.6 77.2,399.9C79.3,399.2 83.1,397.7 84.9,397.0C86.7,396.3 89.0,395.3 90.7,394.7C92.4,394.1 96.0,392.9 97.5,392.8C99.0,392.7 100.9,393.0 102.3,393.6C103.7,394.2 106.6,396.4 108.1,397.4C109.6,398.4 112.4,400.1 113.9,400.9C115.4,401.7 117.9,402.8 119.7,403.2C121.5,403.6 125.3,403.5 127.4,403.8C129.5,404.1 133.3,404.6 135.1,405.1C136.9,405.6 139.4,406.8 140.9,407.6C142.4,408.4 145.5,410.3 146.7,410.9C147.9,411.5 148.8,411.7 150.0,412.3C151.2,412.9 154.3,415.2 155.8,415.4C157.3,415.6 160.1,414.5 161.6,414.0C163.1,413.5 165.9,412.0 167.4,411.5C168.9,411.0 171.7,410.3 173.2,410.2C174.7,410.1 177.5,410.6 179.0,410.9C180.5,411.2 183.2,411.8 184.7,412.5C186.2,413.2 189.0,415.2 190.5,416.3C192.0,417.4 194.8,419.5 196.3,420.6C197.8,421.7 200.6,423.6 202.1,424.4C203.6,425.2 206.4,426.4 207.9,426.6C209.4,426.8 212.2,426.5 213.7,426.0C215.2,425.5 218.0,424.0 219.5,423.1C221.0,422.2 223.8,420.1 225.3,419.2C226.8,418.3 229.6,416.8 231.1,416.3C232.6,415.8 235.4,415.7 236.9,415.4C238.4,415.1 241.2,414.4 242.7,414.0C244.2,413.6 247.0,412.6 248.5,412.1C250.0,411.6 252.7,410.9 254.2,410.2C255.7,409.5 258.5,407.8 260.0,406.7C261.5,405.6 264.3,403.2 265.8,401.9C267.3,400.6 270.1,398.0 271.6,397.0C273.1,396.0 275.9,394.7 277.4,394.1C278.9,393.5 281.7,392.8 283.2,392.2C284.7,391.6 287.5,389.6 289.0,389.3C290.5,389.0 293.3,389.4 294.8,389.7C296.3,390.0 298.5,391.0 300.0,391.7C301.5,392.4 304.3,394.4 305.8,394.7C307.3,395.0 310.2,393.9 311.6,393.6C313.0,393.3 315.1,392.5 316.4,392.8C317.7,393.1 319.8,395.0 321.2,396.1C322.6,397.2 325.5,399.7 327.0,400.9C328.5,402.1 331.3,404.3 332.8,405.1C334.3,405.9 337.1,406.3 338.6,406.7C340.1,407.1 343.1,407.8 344.4,408.2C345.7,408.6 347.1,409.7 348.3,409.6C349.5,409.5 351.8,407.5 353.1,407.1C354.4,406.7 356.5,406.3 357.9,406.3C359.3,406.3 362.2,406.7 363.7,407.1C365.2,407.5 368.0,408.9 369.5,409.6C371.0,410.3 373.8,412.1 375.3,412.5C376.8,412.9 379.6,412.6 381.1,412.5C382.6,412.4 385.4,412.2 386.9,412.1C388.4,412.0 391.2,412.0 392.7,411.5C394.2,411.0 397.0,409.2 398.5,408.6C400.0,408.0 402.7,407.1 404.2,406.7C405.7,406.3 408.5,406.2 410.0,405.7C411.5,405.2 414.3,403.8 415.8,403.2C417.3,402.6 420.3,401.4 421.6,400.9C422.9,400.4 424.2,400.2 425.5,399.3C426.8,398.4 429.8,395.5 431.3,394.1C432.8,392.7 435.6,389.8 437.1,388.9C438.6,388.0 441.2,387.3 442.9,387.0C444.6,386.7 448.3,386.9 450.0,386.4C451.7,385.9 454.3,384.8 455.8,383.5C457.3,382.2 460.1,378.1 461.6,376.8C463.1,375.5 465.9,374.0 467.4,373.5C468.9,373.0 471.7,373.2 473.2,372.9C474.7,372.6 477.5,370.9 479.0,371.0C480.5,371.1 483.2,372.4 484.7,373.5C486.2,374.6 489.0,377.6 490.5,379.3C492.0,381.0 494.8,384.4 496.3,386.4C497.8,388.4 500.6,392.3 502.1,394.1C503.6,395.9 506.4,398.5 507.9,399.9C509.4,401.3 512.2,403.7 513.7,404.7C515.2,405.7 518.0,406.9 519.5,407.6C521.0,408.3 523.8,409.3 525.3,410.2C526.8,411.1 529.6,412.8 531.1,414.0C532.6,415.2 535.4,417.9 536.9,419.2C538.4,420.5 541.2,422.6 542.7,423.7C544.2,424.8 547.0,426.6 548.5,427.5C550.0,428.4 552.5,430.3 554.2,430.8C555.9,431.3 559.5,430.6 561.0,431.4C562.5,432.2 564.4,435.5 565.8,436.6C567.2,437.7 570.1,439.3 571.6,439.9C573.1,440.5 575.7,440.7 577.4,440.8C579.1,440.9 583.6,441.0 584.6,441.0" fill="none" stroke="#f7a964" stroke-width="1" stroke-linejoin="round"/>
<path d="M0.0,432.2C1.0,432.7 5.6,434.8 7.7,435.6C9.8,436.4 13.1,437.5 15.4,438.0C17.7,438.5 22.8,439.0 25.1,439.1C27.4,439.2 30.7,439.0 32.8,438.5C34.9,438.0 38.4,436.8 40.5,435.6C42.6,434.4 46.2,431.5 48.3,429.8C50.4,428.1 53.9,424.3 56.0,422.5C58.1,420.7 61.6,417.8 63.7,416.3C65.8,414.8 69.3,412.7 71.4,411.5C73.5,410.3 77.1,408.6 79.2,407.6C81.3,406.6 84.8,404.7 86.9,403.8C89.0,402.9 92.8,401.1 94.6,400.5C96.4,399.9 98.9,399.3 100.4,399.0C101.9,398.7 104.7,398.6 106.2,398.6C107.7,398.6 110.2,398.8 112.0,399.0C113.8,399.2 117.6,400.0 119.7,400.3C121.8,400.6 125.3,401.0 127.4,401.3C129.5,401.6 133.0,401.9 135.1,402.2C137.2,402.5 140.9,403.3 142.9,403.8C144.9,404.3 148.0,405.4 150.0,406.0C152.0,406.6 155.6,407.9 157.7,408.6C159.8,409.3 163.3,410.6 165.4,410.9C167.5,411.2 171.1,410.6 173.2,410.5C175.3,410.4 178.8,410.0 180.9,410.2C183.0,410.4 186.5,411.5 188.6,412.1C190.7,412.7 194.2,414.0 196.3,414.8C198.4,415.6 202.0,417.2 204.1,417.9C206.2,418.6 209.7,419.7 211.8,420.2C213.9,420.7 217.4,421.6 219.5,421.7C221.6,421.8 225.1,421.0 227.2,420.6C229.3,420.2 232.8,419.0 234.9,418.6C237.0,418.2 240.6,417.7 242.7,417.3C244.8,416.9 248.3,416.3 250.4,415.9C252.5,415.5 256.0,414.7 258.1,414.0C260.2,413.3 263.7,411.8 265.8,410.9C267.9,410.0 271.5,408.5 273.6,407.6C275.7,406.7 279.2,404.8 281.3,403.8C283.4,402.8 287.2,400.8 289.0,399.9C290.8,399.0 293.3,397.5 294.8,397.0C296.3,396.5 298.3,396.1 300.0,395.8C301.7,395.5 305.6,394.9 307.7,394.7C309.8,394.5 313.3,394.0 315.4,394.1C317.5,394.2 321.1,394.9 323.2,395.5C325.3,396.1 328.8,397.9 330.9,398.6C333.0,399.3 336.5,400.3 338.6,400.9C340.7,401.5 344.2,402.7 346.3,403.2C348.4,403.7 352.0,404.4 354.1,404.7C356.2,405.0 359.7,405.0 361.8,405.3C363.9,405.6 367.4,406.3 369.5,406.7C371.6,407.1 375.1,407.8 377.2,408.2C379.3,408.6 382.8,409.3 384.9,409.6C387.0,409.9 390.9,410.4 392.7,410.5C394.5,410.6 397.0,410.6 398.5,410.5C400.0,410.4 402.4,410.0 404.2,409.6C406.0,409.2 409.9,408.2 412.0,407.6C414.1,407.0 417.6,405.7 419.7,405.1C421.8,404.5 425.3,403.6 427.4,402.8C429.5,402.0 433.0,400.3 435.1,399.3C437.2,398.3 440.9,396.3 442.9,395.5C444.9,394.7 448.0,393.8 450.0,393.0C452.0,392.2 455.6,390.4 457.7,389.3C459.8,388.2 463.3,385.7 465.4,384.5C467.5,383.3 471.1,381.5 473.2,380.6C475.3,379.7 479.1,378.1 480.9,377.7C482.7,377.3 485.2,377.2 486.7,377.3C488.2,377.4 490.7,378.0 492.5,378.7C494.3,379.4 498.1,381.2 500.2,382.5C502.3,383.8 505.8,386.8 507.9,388.3C510.0,389.8 513.5,392.6 515.6,394.1C517.7,395.6 521.3,397.9 523.4,399.3C525.5,400.7 529.0,403.2 531.1,404.7C533.2,406.2 537.0,409.3 538.8,410.5C540.6,411.7 543.1,412.4 544.6,413.4C546.1,414.4 548.6,416.7 550.4,417.9C552.2,419.1 556.0,421.4 558.1,422.5C560.2,423.6 563.7,425.0 565.8,426.0C567.9,427.0 571.8,428.9 573.6,429.8C575.4,430.7 577.8,432.1 579.3,432.7C580.8,433.3 583.9,434.1 584.6,434.3" fill="none" stroke="#45c3e3" stroke-width="1" stroke-linejoin="round"/>
<path d="M8.6,360.2l7.2,7.2M15.8,360.2l-7.2,7.2" stroke="#4d5364" stroke-width="0.9" fill="none"/>
<polygon points="25.2,359.6 28.8,361.7 28.8,365.9 25.2,368.0 21.6,365.9 21.6,361.7" fill="none" stroke="#4d5364" stroke-width="0.9"/>
<circle cx="25.2" cy="363.8" r="1.5" fill="none" stroke="#4d5364" stroke-width="0.9"/>
<rect x="35" y="360.2" width="7.4" height="7.2" fill="none" stroke="#4d5364" stroke-width="0.9"/>
<path d="M36.7,363.8h4M38.7,361.8v4" stroke="#4d5364" stroke-width="0.9"/>
<text x="44.7" y="367.0" font-size="9" fill="#3a3f4a" textLength="58.0" lengthAdjust="spacingAndGlyphs">MACD(12,26,9)</text>
<text x="108.0" y="367.0" font-size="9" fill="#a386e6" textLength="60.7" lengthAdjust="spacingAndGlyphs">MACD:-7.19228</text>
<text x="173.7" y="367.0" font-size="9" fill="#f3a45e" textLength="54.1" lengthAdjust="spacingAndGlyphs">DIF:-17.03478</text>
<text x="232.8" y="367.0" font-size="9" fill="#3cb6da" textLength="56.8" lengthAdjust="spacingAndGlyphs">DEA:-13.43864</text>
<path d="M8.6,73.10000000000001l7.2,7.2M15.8,73.10000000000001l-7.2,7.2" stroke="#4d5364" stroke-width="0.9" fill="none"/>
<polygon points="25.2,72.5 28.8,74.6 28.8,78.8 25.2,80.9 21.6,78.8 21.6,74.6" fill="none" stroke="#4d5364" stroke-width="0.9"/>
<circle cx="25.2" cy="76.7" r="1.5" fill="none" stroke="#4d5364" stroke-width="0.9"/>
<path d="M32.6,76.7q4.4,-6.4 8.8,0q-4.4,6.4 -8.8,0z" fill="none" stroke="#4d5364" stroke-width="0.9"/>
<circle cx="37" cy="76.7" r="1.4" fill="none" stroke="#4d5364" stroke-width="0.9"/>
<text x="44.5" y="79.9" font-size="9" fill="#3a3f4a" textLength="48.2" lengthAdjust="spacingAndGlyphs">BOLL(20,2,2)</text>
<text x="97.8" y="79.9" font-size="9" fill="#dd77d0" textLength="43.4" lengthAdjust="spacingAndGlyphs">UP:3393.37</text>
<text x="146.4" y="79.9" font-size="9" fill="#6f80f2" textLength="48.4" lengthAdjust="spacingAndGlyphs">MID:3345.09</text>
<text x="199.8" y="79.9" font-size="9" fill="#b07a58" textLength="51.2" lengthAdjust="spacingAndGlyphs">LOW:3296.80</text>
<rect x="8.1" y="45.1" width="54" height="22.2" rx="2.6" fill="#fbe4e7" stroke="#f2a3ad" stroke-width="0.9"/>
<rect x="66.7" y="45.1" width="40.6" height="22.2" rx="2.6" fill="#f4f5f9" stroke="#e3e5ec" stroke-width="0.9"/>
<rect x="111.9" y="45.1" width="54.4" height="22.2" rx="2.6" fill="#d8f2eb" stroke="#8ed5c3" stroke-width="0.9"/>
<text x="19.0" y="59.7" font-size="9" fill="#33363d" textLength="32.4" lengthAdjust="spacingAndGlyphs">3315.52</text>
<text x="72.3" y="59.7" font-size="9" fill="#33363d" textLength="16.9" lengthAdjust="spacingAndGlyphs">0.01</text>
<text x="122.8" y="59.7" font-size="9" fill="#33363d" textLength="32.9" lengthAdjust="spacingAndGlyphs">3315.32</text>
<path d="M99.8,52.1l1.4,-1.7l1.4,1.7zM99.8,60.5l1.4,1.7l1.4,-1.7z" fill="#555b6b" stroke="#555b6b" stroke-width="0.4"/>
<circle cx="12.8" cy="32" r="4.8" fill="#ebb338"/>
<circle cx="12.8" cy="30.5" r="1.2" fill="#fff"/><circle cx="11.1" cy="33.2" r="1.2" fill="#fff"/><circle cx="14.5" cy="33.2" r="1.2" fill="#fff"/>
<text x="20.8" y="36.0" font-size="10.5" fill="#f3733b" font-weight="500" textLength="41.4" lengthAdjust="spacingAndGlyphs">现货黄金</text>
<text x="64.3" y="36.1" font-size="10.5" fill="#4a5166" textLength="42.5" lengthAdjust="spacingAndGlyphs">XAUUSD</text>
<path d="M109.6,31.3h3.4l-1.7,2.2z" fill="#4a5166"/>
<line x1="121" y1="27.6" x2="121" y2="37" stroke="#dfe2ea" stroke-width="1"/>
<text x="127.4" y="35.8" font-size="10" fill="#6d7486" textLength="25.8" lengthAdjust="spacingAndGlyphs"><tspan font-size="11.5">4</tspan>小时</text>
<path d="M159.2,31.3h3.4l-1.7,2.2z" fill="#6d7486"/>
<text x="170.2" y="36.1" font-size="10.5" fill="#d9364c" font-weight="bold" textLength="39.2" lengthAdjust="spacingAndGlyphs">3315.32</text>
<text x="217.8" y="36.1" font-size="10.5" fill="#d9364c" font-weight="bold" textLength="27.8" lengthAdjust="spacingAndGlyphs">+0.54</text>
<text x="253.3" y="36.1" font-size="10.5" fill="#d9364c" font-weight="bold" textLength="36.4" lengthAdjust="spacingAndGlyphs">+0.02%</text>
<text x="295.3" y="35.3" font-size="8" fill="#7a8092" textLength="7.7" lengthAdjust="spacingAndGlyphs">高</text>
<text x="305.2" y="35.5" font-size="8.4" fill="#e0566a" textLength="30.2" lengthAdjust="spacingAndGlyphs">3320.86</text>
<text x="339.2" y="35.3" font-size="8" fill="#7a8092" textLength="7.1" lengthAdjust="spacingAndGlyphs">开</text>
<text x="349.0" y="35.5" font-size="8.4" fill="#1fa388" textLength="29.7" lengthAdjust="spacingAndGlyphs">3314.49</text>
<text x="382.4" y="35.3" font-size="8" fill="#7a8092" textLength="7.1" lengthAdjust="spacingAndGlyphs">低</text>
<text x="392.5" y="35.5" font-size="8.4" fill="#1fa388" textLength="29.9" lengthAdjust="spacingAndGlyphs">3307.98</text>
<text x="425.9" y="35.3" font-size="8" fill="#7a8092" textLength="15.4" lengthAdjust="spacingAndGlyphs">昨收</text>
<text x="443.8" y="35.5" font-size="8.4" fill="#5b6172" textLength="30.9" lengthAdjust="spacingAndGlyphs">3314.78</text>
<rect x="690" y="25.6" width="12.8" height="13.1" rx="2" fill="#eceef4"/>
<rect x="706.5" y="25.6" width="12.8" height="13.1" rx="2" fill="#eceef4"/>
<rect x="722.4" y="25.6" width="12.8" height="13.1" rx="2" fill="#eceef4"/>
<rect x="741.4" y="25.6" width="12.8" height="13.1" rx="2" fill="#eceef4"/>
<rect x="757.7" y="25.6" width="12.8" height="13.1" rx="2" fill="#eceef4"/>
<path d="M693.2,32.2l1.7,-2.2l2.1,2.8l1.4,-1.6h1.3M693.2,35.4h6.6" fill="none" stroke="#3f4660" stroke-width="0.9"/>
<path d="M709.6,35.6h6.6M710,34.4l0.6,-2l3.4,-3.4l1.4,1.4l-3.4,3.4z" fill="#3f4660" stroke="#3f4660" stroke-width="0.6"/>
<path d="M727.2,28.5v6M730.6,30v6.2" stroke="#3f4660" stroke-width="0.7"/><rect x="726.2" y="29.6" width="2" height="3.6" rx="0.8" fill="#3f4660"/><rect x="729.6" y="31.2" width="2" height="3.6" rx="0.8" fill="#3f4660"/>
<path d="M745.2,35l5.2,-5.2M745,32.8v2.4h2.4M750.6,31.8v-2.4h-2.4" fill="none" stroke="#3f4660" stroke-width="0.9"/>
<path d="M761,29l6.2,6.2M767.2,29l-6.2,6.2" stroke="#3f4660" stroke-width="0.9"/>
<text x="12.3" y="12.6" font-size="8.8" fill="#4a5061" textLength="16.7" lengthAdjust="spacingAndGlyphs">分时</text>
<text x="38.8" y="12.6" font-size="8.8" fill="#4a5061" textLength="12.2" lengthAdjust="spacingAndGlyphs"><tspan font-size="10">1</tspan>分</text>
<text x="60.4" y="12.6" font-size="8.8" fill="#4a5061" textLength="12.4" lengthAdjust="spacingAndGlyphs"><tspan font-size="10">5</tspan>分</text>
<text x="82.4" y="12.6" font-size="8.8" fill="#4a5061" textLength="17.8" lengthAdjust="spacingAndGlyphs"><tspan font-size="10">30</tspan>分</text>
<text x="110.2" y="12.6" font-size="8.8" fill="#4a5061" textLength="12.6" lengthAdjust="spacingAndGlyphs"><tspan font-size="10">1</tspan>时</text>
<text x="132.5" y="12.6" font-size="8.8" fill="#4a5061" textLength="13.5" lengthAdjust="spacingAndGlyphs">日<tspan font-size="10">K</tspan></text>
<text x="155.0" y="12.6" font-size="8.8" fill="#4a5061" textLength="13.0" lengthAdjust="spacingAndGlyphs"><tspan font-size="10">2</tspan>分</text>
<text x="177.5" y="12.6" font-size="8.8" fill="#4a5061" textLength="13.0" lengthAdjust="spacingAndGlyphs"><tspan font-size="10">3</tspan>分</text>
<text x="200.2" y="12.6" font-size="8.8" fill="#4a5061" textLength="13.0" lengthAdjust="spacingAndGlyphs"><tspan font-size="10">4</tspan>分</text>
<text x="223.4" y="12.6" font-size="8.8" fill="#4a5061" textLength="17.6" lengthAdjust="spacingAndGlyphs"><tspan font-size="10">10</tspan>分</text>
<text x="250.8" y="12.6" font-size="8.8" fill="#4a5061" textLength="17.0" lengthAdjust="spacingAndGlyphs"><tspan font-size="10">15</tspan>分</text>
<text x="278.0" y="12.6" font-size="8.8" fill="#4a5061" textLength="18.6" lengthAdjust="spacingAndGlyphs"><tspan font-size="10">20</tspan>分</text>
<text x="306.4" y="12.6" font-size="8.8" fill="#4a5061" textLength="12.7" lengthAdjust="spacingAndGlyphs"><tspan font-size="10">2</tspan>时</text>
<text x="328.4" y="12.6" font-size="8.8" fill="#4a5061" textLength="13.0" lengthAdjust="spacingAndGlyphs"><tspan font-size="10">3</tspan>时</text>
<text x="373.8" y="12.6" font-size="8.8" fill="#4a5061" textLength="12.3" lengthAdjust="spacingAndGlyphs"><tspan font-size="10">6</tspan>时</text>
<rect x="346.9" y="2.6" width="21.6" height="13.6" rx="2.6" fill="#f6793b"/>
<text x="350.6" y="12.6" font-size="8.8" fill="#fff" textLength="14.5" lengthAdjust="spacingAndGlyphs"><tspan font-size="10">4</tspan>时</text>
<text x="395.4" y="12.5" font-size="9" fill="#23283a" font-weight="bold" textLength="17.0" lengthAdjust="spacingAndGlyphs">更多</text>
<path d="M414.8,8.6h3.2l-1.6,2.1z" fill="#23283a"/>
<path d="M493.5,13.5L501.4,5.6M498,5.4h3.6v3.6" fill="none" stroke="#3b4560" stroke-width="1"/>
<path d="M512.2,13.5L520.7,5.6M517.4,5.4h3.5v3.5" fill="none" stroke="#8e95a6" stroke-width="0.8"/>
<path d="M530.2,3.9h10.6" stroke="#3b4560" stroke-width="1.1"/><path d="M530.2,6.3h10.6M530.2,8.7h10.6" stroke="#3b4560" stroke-width="0.6"/><path d="M530.2,14.4h10.6" stroke="#3b4560" stroke-width="1"/>
<text x="531.0" y="12.9" font-size="3.6" fill="#3b4560" font-weight="bold" textLength="9.0" lengthAdjust="spacingAndGlyphs">0.618</text>
<path d="M550.5,13.9L554.3,4.2M550.5,13.9L557.2,5.8M550.5,13.9L559.2,8.1M550.5,13.9L559.6,11M550.5,13.9L559.6,13.3M550.5,13.9L552.2,5.2" stroke="#3b4560" stroke-width="0.8"/>
<path d="M569.4,14.2h9.4" stroke="#3b4560" stroke-width="0.9"/><path d="M571,11.6l1,-2.6l4.2,-4.6l2,1.9l-4.2,4.6z" fill="none" stroke="#3b4560" stroke-width="0.9"/>
<text x="586.8" y="13.5" font-size="12" fill="#3b4560" textLength="7.0" lengthAdjust="spacingAndGlyphs">T</text>
<text x="593.6" y="13.3" font-size="8.6" fill="#3b4560" textLength="5.0" lengthAdjust="spacingAndGlyphs">T</text>
<path d="M605.9,11.6L609.7,7.7L613.2,11.2L617.5,7.7" fill="none" stroke="#3b4560" stroke-width="1.2"/>
<rect x="625.4" y="5.2" width="10.2" height="8.4" fill="none" stroke="#3b4560" stroke-width="1.1"/>
<circle cx="645.4" cy="9.1" r="0.95" fill="#3b4560"/><circle cx="648.7" cy="9.1" r="0.95" fill="#3b4560"/><circle cx="652" cy="9.1" r="0.95" fill="#3b4560"/>
<line x1="659.8" y1="5" x2="659.8" y2="13" stroke="#e0e3ea" stroke-width="1"/>
<path d="M674,4.9h-5.4a1,1 0 0,0 -1,1v7.4a1,1 0 0,0 1,1h8.4a1,1 0 0,0 1,-1V8.6" fill="none" stroke="#f2693a" stroke-width="1.1"/>
<path d="M671,11.4l0.6,-2.4l5,-5l1.8,1.8l-5,5z" fill="#f2693a" fill-opacity="0.55" stroke="#f2693a" stroke-width="0.7"/>
<path d="M685.4,9.6l5,-5.2l4.6,4.4l-5,5.2h-2.2z" fill="none" stroke="#3b4560" stroke-width="1"/><path d="M688.2,6.8l4.4,4.4M689,14.2h6.8" stroke="#3b4560" stroke-width="1" fill="none"/>
<path d="M704.6,6.4v3a3.5,3.5 0 0,0 7,0V6.4M704.6,4.2v1.2M711.6,4.2v1.2" fill="none" stroke="#3b4560" stroke-width="1"/>
<rect x="720.8" y="8.6" width="9" height="5.4" rx="0.8" fill="none" stroke="#3b4560" stroke-width="1"/><path d="M722.6,8.6V6.8a2.6,2.6 0 0,1 5,-0.8M723.8,11.3h3" fill="none" stroke="#3b4560" stroke-width="1"/>
<path d="M738,9.4q5.4,-7.6 10.8,0q-5.4,7.6 -10.8,0z" fill="none" stroke="#3b4560" stroke-width="1"/><circle cx="743.4" cy="9.4" r="1.9" fill="none" stroke="#3b4560" stroke-width="1"/>
<path d="M756.4,5.8h8.8M759,5.6v-1.4h3.6v1.4M757.6,6v7a1,1 0 0,0 1,1h4.4a1,1 0 0,0 1,-1V6M759.8,8v4M761.8,8v4" fill="none" stroke="#3b4560" stroke-width="1"/>
</svg>
</body></html>
